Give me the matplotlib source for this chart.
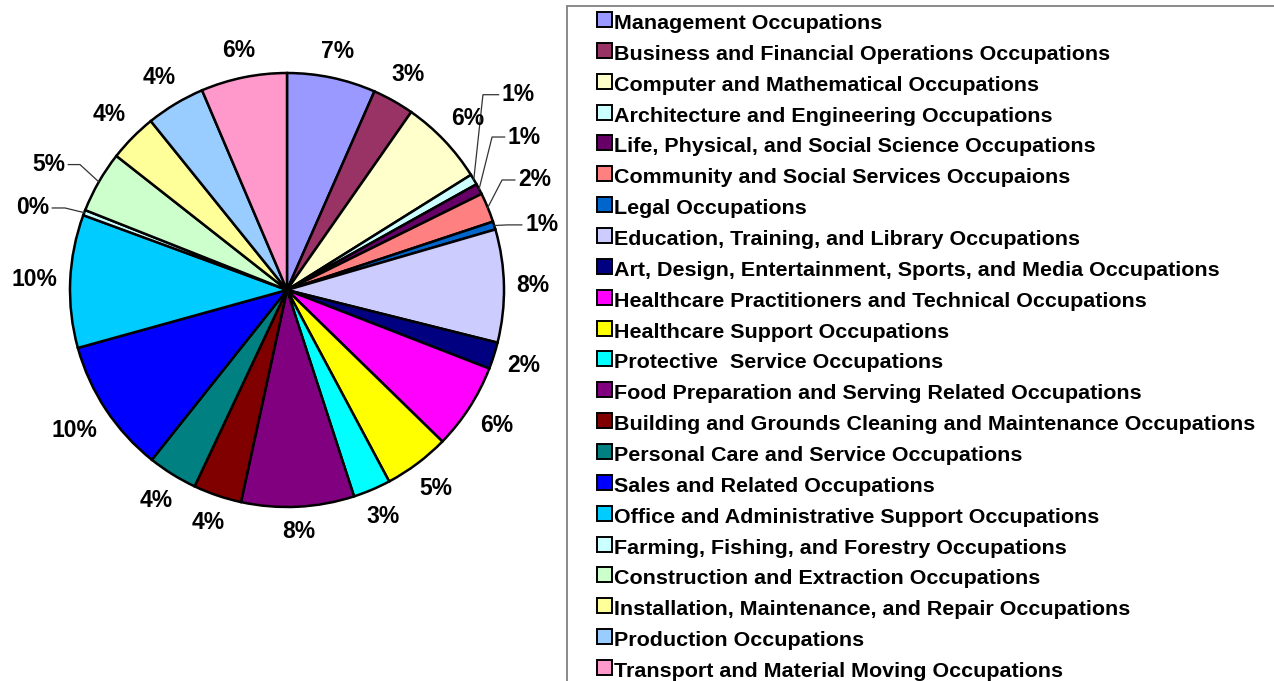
import numpy as np
import matplotlib
matplotlib.use('Agg')
import matplotlib.pyplot as plt
from matplotlib.patches import Rectangle

# Occupation groups, clockwise from 12 o'clock
categories = [
    'Management Occupations',
    'Business and Financial Operations Occupations',
    'Computer and Mathematical Occupations',
    'Architecture and Engineering Occupations',
    'Life, Physical, and Social Science Occupations',
    'Community and Social Services Occupaions',
    'Legal Occupations',
    'Education, Training, and Library Occupations',
    'Art, Design, Entertainment, Sports, and Media Occupations',
    'Healthcare Practitioners and Technical Occupations',
    'Healthcare Support Occupations',
    'Protective  Service Occupations',
    'Food Preparation and Serving Related Occupations',
    'Building and Grounds Cleaning and Maintenance Occupations',
    'Personal Care and Service Occupations',
    'Sales and Related Occupations',
    'Office and Administrative Support Occupations',
    'Farming, Fishing, and Forestry Occupations',
    'Construction and Extraction Occupations',
    'Installation, Maintenance, and Repair Occupations',
    'Production Occupations',
    'Transport and Material Moving Occupations',
]

# share of employment (%)
shares = [6.6, 3.1, 6.4, 0.8, 0.8, 2.2, 0.6, 8.4, 2.0, 6.4, 4.9,
          2.8, 8.4, 3.6, 3.7, 10.0, 9.9, 0.4, 4.6, 3.6, 4.4, 6.4]

colors = ['#9999FF', '#993366', '#FFFFCC', '#CCFFFF', '#660066', '#FF8080',
          '#0066CC', '#CCCCFF', '#000080', '#FF00FF', '#FFFF00', '#00FFFF',
          '#800080', '#800000', '#008080', '#0000FF', '#00CCFF', '#CCFFFF',
          '#CCFFCC', '#FFFF99', '#99CCFF', '#FF99CC']

# small slices get a leader line: index -> (text x, text y, elbow x) in pie units
leader_labels = {
    3: (0.99, 0.90, 0.903),
    4: (1.018, 0.705, 0.945),
    5: (1.065, 0.507, 0.991),
    6: (1.097, 0.30, 1.014),
    17: (-1.097, 0.378, -1.023),
    18: (-1.023, 0.578, -0.954),
}

W, H = 1274, 681
cx, cy, R = 287, 290, 217   # pie centre and radius in pixels
font = 'Liberation Sans'

fig = plt.figure(figsize=(W / 100, H / 100), dpi=100)
ax = fig.add_axes([0, 0, 574 / W, 1])

wedges, _ = ax.pie(shares, colors=colors, startangle=90, counterclock=False,
                   wedgeprops=dict(edgecolor='black', linewidth=1.8))
ax.set_xlim(-cx / R, (574 - cx) / R)
ax.set_ylim(-(H - cy) / R, cy / R)
ax.set_aspect('auto')
ax.axis('off')

total = sum(shares)
outer = []
for i, w in enumerate(wedges):
    mid = np.deg2rad((w.theta1 + w.theta2) / 2)
    c, s = np.cos(mid), np.sin(mid)
    label = f"{shares[i] / total * 100:.0f}%"
    if i in leader_labels:
        tx, ty, ex = leader_labels[i]
        side = 1 if tx > 0 else -1
        ax.plot([c, ex, tx - side * 0.015], [s, ty, ty], color='#333333', lw=0.9)
        ax.text(tx, ty, label, ha='left' if side > 0 else 'right', va='center',
                fontsize=16.5, fontweight='bold', family=font)
    else:
        t = ax.text(c * 1.15, s * 1.15, label, ha='center', va='center',
                    fontsize=16.5, fontweight='bold', family=font)
        outer.append((t, c, s))

# push each outside label so its box sits just clear of the rim
fig.canvas.draw()
renderer = fig.canvas.get_renderer()
gap = 0.057
for t, c, s in outer:
    bb = t.get_window_extent(renderer)
    hw = bb.width / 2 / R
    hh = bb.height / 2 / R
    d = 1 + gap + abs(c) * hw + abs(s) * hh
    t.set_position((c * d, s * d))

# legend, drawn row by row; its frame runs off the right and bottom edges
fig.add_artist(Rectangle((567 / W, -0.2), 1.0, 1.2 - 6 / H, fill=False,
                         edgecolor='#808080', lw=1.3, transform=fig.transFigure))
step = 30.86
for i, name in enumerate(categories):
    yb = 29 + i * step
    fig.add_artist(Rectangle((597 / W, 1 - (yb - 2) / H), 15 / W, 15 / H,
                             facecolor=colors[i], edgecolor='black', lw=1.4,
                             transform=fig.transFigure))
    fig.text(614 / W, 1 - yb / H, name, ha='left', va='baseline',
             fontsize=15.45, fontweight='bold', family=font)

fig.savefig('out.png', dpi=100)
